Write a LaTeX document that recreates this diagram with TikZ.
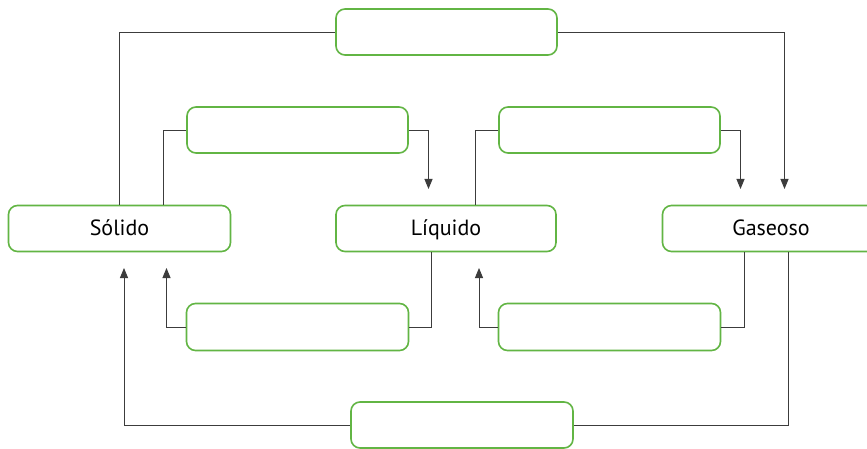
\documentclass[tikz,border=0pt]{standalone}
\usepackage{fontspec}
\setmainfont{PT Sans}
\usetikzlibrary{arrows.meta}
\definecolor{boxgreen}{RGB}{98,181,68}
\definecolor{wire}{RGB}{60,60,60}
\tikzset{
  box/.style={draw=boxgreen, line width=1.6pt, rounded corners=9pt, fill=white,
    minimum width=221pt, minimum height=46pt, inner sep=0pt,
    text height=15pt, text depth=0pt,
    font=\fontsize{22}{26}\selectfont, text=black},
  wireline/.style={draw=wire, line width=0.9pt},
  arr/.style={wireline, -{Triangle[length=10pt,width=8pt]}}
}
\begin{document}
\begin{tikzpicture}[x=1pt,y=-1pt]
\clip (0,0) rectangle (867,449);
\fill[white] (0,0) rectangle (867,449);

% state boxes
\node[box, minimum width=222pt] (sol) at (119.5,228.5) {Sólido};
\node[box, minimum width=220pt] (liq) at (446,228.5) {Líquido};
\node[box, minimum width=217pt] (gas) at (771,228.5) {Gaseoso};

% empty transition boxes
\node[box] (top) at (446.5,32) {};
\node[box] (up1) at (297.5,130) {};
\node[box] (up2) at (609.5,130) {};
\node[box, minimum width=222pt, minimum height=47pt] (lo1) at (297.5,327) {};
\node[box, minimum width=222pt, minimum height=47pt] (lo2) at (609.5,327) {};
\node[box, minimum width=222pt] (bot) at (462,425) {};

% arrow tips
\coordinate (tgasA) at (784.5,189);
\coordinate (tliq) at (428.5,189);
\coordinate (tgasB) at (740.5,189);
\coordinate (tsolA) at (166.5,268);
\coordinate (tliqB) at (479,268);
\coordinate (tsolB) at (124,268);

% upper paths
\draw[wireline] (sol.north) |- (top.west);
\draw[arr] (top.east) -| (tgasA);
\draw[wireline] ([xshift=43.5pt]sol.north) |- (up1.west);
\draw[arr] (up1.east) -| (tliq);
\draw[wireline] ([xshift=29.5pt]liq.north) |- (up2.west);
\draw[arr] (up2.east) -| (tgasB);

% lower paths
\draw[wireline] ([xshift=-14.5pt]liq.south) |- (lo1.east);
\draw[arr] (lo1.west) -| (tsolA);
\draw[wireline] ([xshift=-27pt]gas.south) |- (lo2.east);
\draw[arr] (lo2.west) -| (tliqB);
\draw[wireline] ([xshift=17pt]gas.south) |- (bot.east);
\draw[arr] (bot.west) -| (tsolB);
\end{tikzpicture}
\end{document}
